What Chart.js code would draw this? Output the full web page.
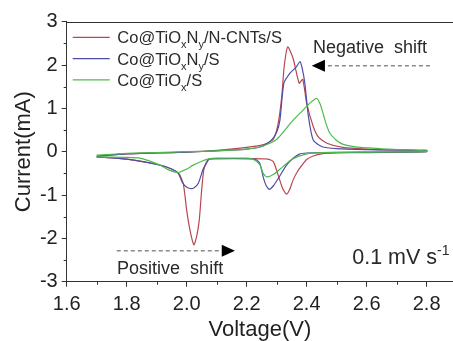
<!DOCTYPE html>
<html>
<head>
<meta charset="utf-8">
<script src="https://cdn.jsdelivr.net/npm/chart.js@4"></script>
<style>
body { margin: 0; background: #fff; }
#wrap { width: 453px; height: 341px; }
</style>
</head>
<body>
<div id="wrap"><canvas id="grafico"></canvas></div>
<script>
// ticks
const xTicks = [1.6, 1.8, 2.0, 2.2, 2.4, 2.6, 2.8];
const xMinor = [1.7, 1.9, 2.1, 2.3, 2.5, 2.7];
const yTicks = [-3, -2, -1, 0, 1, 2, 3];
const yMinor = [-2.5, -1.5, -0.5, 0.5, 1.5, 2.5];

// Co@TiOxNy/N-CNTs/S  (anodic sweep, then cathodic sweep)
const redV = [1.70, 1.80, 1.90, 2.00, 2.10, 2.20, 2.25, 2.275, 2.29, 2.305, 2.317, 2.325, 2.337, 2.355, 2.375, 2.387, 2.40, 2.422, 2.44, 2.47, 2.52, 2.60, 2.70, 2.80,
  2.80, 2.60, 2.50, 2.45, 2.422, 2.40, 2.389, 2.37, 2.355, 2.343, 2.333, 2.32, 2.305, 2.289, 2.27, 2.20, 2.10, 2.075, 2.065, 2.057, 2.05, 2.042, 2.033, 2.024, 2.011, 2.00, 1.989, 1.975, 1.95, 1.90, 1.80, 1.70];
const redI = [-0.10, -0.05, -0.03, -0.01, 0.03, 0.10, 0.15, 0.22, 0.30, 0.65, 1.27, 1.96, 2.42, 2.15, 1.58, 1.67, 1.12, 0.58, 0.33, 0.19, 0.10, 0.06, 0.04, 0.03,
  0.00, -0.02, -0.03, -0.05, -0.10, -0.18, -0.27, -0.45, -0.65, -0.88, -0.98, -0.85, -0.54, -0.23, -0.17, -0.16, -0.16, -0.17, -0.25, -0.42, -0.88, -1.58, -1.96, -2.15, -1.81, -1.35, -0.75, -0.52, -0.40, -0.29, -0.17, -0.12];

// Co@TiOxNy/S
const blueV = [1.70, 1.80, 1.90, 2.00, 2.10, 2.20, 2.25, 2.28, 2.30, 2.311, 2.324, 2.344, 2.365, 2.378, 2.386, 2.394, 2.406, 2.422, 2.45, 2.50, 2.60, 2.80,
  2.80, 2.60, 2.45, 2.40, 2.378, 2.355, 2.333, 2.305, 2.29, 2.276, 2.265, 2.255, 2.244, 2.23, 2.20, 2.10, 2.075, 2.065, 2.055, 2.039, 2.025, 2.011, 1.995, 1.985, 1.972, 1.95, 1.911, 1.80, 1.70];
const blueI = [-0.10, -0.05, -0.03, -0.01, 0.02, 0.06, 0.12, 0.25, 0.45, 0.73, 1.58, 1.81, 1.95, 2.08, 1.90, 1.58, 0.81, 0.27, 0.12, 0.07, 0.05, 0.03,
  0.00, -0.01, -0.02, -0.03, -0.05, -0.15, -0.31, -0.62, -0.78, -0.87, -0.78, -0.58, -0.27, -0.18, -0.16, -0.16, -0.17, -0.28, -0.40, -0.73, -0.83, -0.85, -0.79, -0.70, -0.50, -0.40, -0.31, -0.17, -0.12];

// Co@TiOx/S
const greenV = [1.70, 1.80, 1.90, 2.00, 2.10, 2.20, 2.25, 2.30, 2.355, 2.38, 2.411, 2.433, 2.445, 2.455, 2.466, 2.478, 2.50, 2.522, 2.58, 2.70, 2.80,
  2.80, 2.60, 2.45, 2.40, 2.35, 2.32, 2.29, 2.267, 2.255, 2.244, 2.22, 2.20, 2.10, 2.07, 2.05, 2.022, 2.00, 1.972, 1.94, 1.911, 1.844, 1.80, 1.70];
const greenI = [-0.08, -0.04, -0.02, 0.00, 0.02, 0.06, 0.12, 0.28, 0.73, 0.90, 1.12, 1.23, 1.10, 0.88, 0.62, 0.42, 0.26, 0.17, 0.10, 0.05, 0.02,
  0.00, -0.01, -0.02, -0.05, -0.18, -0.35, -0.52, -0.58, -0.50, -0.30, -0.17, -0.15, -0.15, -0.17, -0.22, -0.31, -0.40, -0.48, -0.42, -0.31, -0.15, -0.13, -0.12];

const cores = ["#b8474f", "#4e4ea6", "#4cbb4c"];
const legenda = [
  [["Co@TiO", ""], ["x", "sub"], ["N", ""], ["y", "sub"], ["/N-CNTs/S", ""]],
  [["Co@TiO", ""], ["x", "sub"], ["N", ""], ["y", "sub"], ["/S", ""]],
  [["Co@TiO", ""], ["x", "sub"], ["/S", ""]]
];

const fonte = '"Liberation Sans", Arial, sans-serif';
const pontos = (vs, is) => vs.map((v, i) => ({ x: v, y: is[i] }));

function textoRico(ctx, partes, x, y, tam) {
  partes.forEach(([t, tipo]) => {
    const s = tipo ? Math.round(tam * 0.65) : tam;
    ctx.font = s + "px " + fonte;
    const dy = tipo === "sub" ? tam * 0.3 : tipo === "sup" ? -tam * 0.42 : 0;
    ctx.fillText(t, x, y + dy);
    x += ctx.measureText(t).width;
  });
}

function seta(ctx, x, y, de, ate, ponta, base) {
  ctx.save();
  ctx.strokeStyle = "#8a8a8a";
  ctx.lineWidth = 1.5;
  ctx.setLineDash([4, 3]);
  ctx.beginPath();
  ctx.moveTo(x.getPixelForValue(de), y);
  ctx.lineTo(x.getPixelForValue(base), y);
  ctx.stroke();
  ctx.restore();
  ctx.fillStyle = "#000";
  ctx.beginPath();
  ctx.moveTo(x.getPixelForValue(ponta), y);
  ctx.lineTo(x.getPixelForValue(base), y - 6);
  ctx.lineTo(x.getPixelForValue(base), y + 6);
  ctx.closePath();
  ctx.fill();
}

const extras = {
  id: "extras",
  afterDraw(chart) {
    const { ctx, chartArea: a, scales: { x, y } } = chart;
    ctx.save();
    ctx.strokeStyle = "#333";
    ctx.lineWidth = 1;
    ctx.beginPath();
    const topo = Math.round(a.top) + 0.5;
    ctx.moveTo(a.left, topo);
    ctx.lineTo(a.right, topo);
    xMinor.forEach(v => {
      const px = Math.round(x.getPixelForValue(v)) + 0.5;
      ctx.moveTo(px, a.bottom);
      ctx.lineTo(px, a.bottom + 3);
    });
    yMinor.forEach(v => {
      const py = Math.round(y.getPixelForValue(v)) + 0.5;
      ctx.moveTo(a.left, py);
      ctx.lineTo(a.left - 3, py);
    });
    ctx.stroke();

    // legenda
    legenda.forEach((partes, i) => {
      const ly = a.top + 15.6 + i * 21.3;
      ctx.strokeStyle = cores[i];
      ctx.lineWidth = 1.3;
      ctx.beginPath();
      ctx.moveTo(a.left + 6, ly);
      ctx.lineTo(a.left + 43, ly);
      ctx.stroke();
      ctx.fillStyle = "#2a2a2a";
      ctx.textBaseline = "alphabetic";
      textoRico(ctx, partes, a.left + 50.6, ly + 6, 16.5);
    });

    // anotacoes
    ctx.fillStyle = "#2a2a2a";
    ctx.font = "18px " + fonte;
    ctx.fillText("Negative  shift", x.getPixelForValue(2.421), y.getPixelForValue(2.27));
    ctx.fillText("Positive  shift", x.getPixelForValue(1.768), y.getPixelForValue(-2.82));
    textoRico(ctx, [["0.1 mV s", ""], ["-1", "sup"]], x.getPixelForValue(2.552), y.getPixelForValue(-2.59), 21.5);

    seta(ctx, x, y.getPixelForValue(1.985), 2.811, 2.461, 2.417, 2.461);
    seta(ctx, x, y.getPixelForValue(-2.285), 1.767, 2.117, 2.161, 2.117);
    ctx.restore();
  }
};

new Chart(document.getElementById("grafico"), {
  type: "scatter",
  data: {
    datasets: [
      { data: pontos(greenV, greenI), borderColor: cores[2] },
      { data: pontos(blueV, blueI), borderColor: cores[1] },
      { data: pontos(redV, redI), borderColor: cores[0] }
    ].map(d => Object.assign(d, { showLine: true, pointRadius: 0, borderWidth: 1.2, tension: 0.2, fill: false }))
  },
  options: {
    responsive: true,
    maintainAspectRatio: false,
    animation: false,
    layout: { padding: { top: 21.7, left: 0, right: 0, bottom: 0 } },
    plugins: { legend: { display: false }, tooltip: { enabled: false } },
    scales: {
      x: {
        type: "linear",
        min: 1.6,
        max: 2.888,
        afterBuildTicks: s => { s.ticks = xTicks.map(v => ({ value: v })); },
        afterFit: s => { s.height = 59.3; },
        ticks: { callback: v => v.toFixed(1), font: { size: 20, family: fonte }, color: "#222", padding: 6, maxRotation: 0, autoSkip: false },
        grid: { drawOnChartArea: false, tickLength: 5, color: "#333" },
        border: { color: "#333" },
        title: { display: true, text: "Voltage(V)", font: { size: 22, family: fonte, lineHeight: 1 }, color: "#222", padding: 0 }
      },
      y: {
        min: -3,
        max: 3,
        afterBuildTicks: s => { s.ticks = yTicks.map(v => ({ value: v })); },
        afterFit: s => { s.width = 66.7; },
        ticks: { callback: v => String(v), font: { size: 20, family: fonte }, color: "#222", padding: 4 },
        grid: { drawOnChartArea: false, tickLength: 5, color: "#333" },
        border: { color: "#333" },
        title: { display: true, text: "Current(mA)", font: { size: 22, family: fonte }, color: "#222", padding: { top: 11, bottom: 0 } }
      }
    }
  },
  plugins: [extras]
});
</script>
</body>
</html>
